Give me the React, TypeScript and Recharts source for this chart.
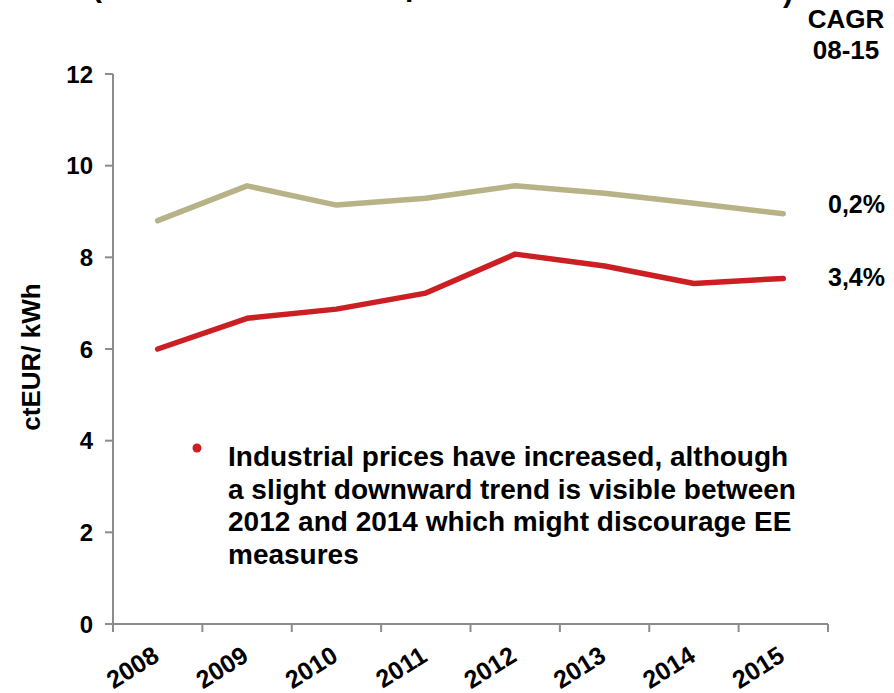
import React from 'react';
import { LineChart, Line, XAxis, YAxis } from 'recharts';

const years = ['2008', '2009', '2010', '2011', '2012', '2013', '2014', '2015'];
const referencePrices = [8.8, 9.56, 9.14, 9.29, 9.56, 9.4, 9.18, 8.95];
const industrialPrices = [6.0, 6.67, 6.87, 7.22, 8.07, 7.81, 7.43, 7.54];
const cagrLabels = ['0,2%', '3,4%'];
const yTicks = [0, 2, 4, 6, 8, 10, 12];
// tick marks sit on category boundaries (half steps), labels on the category centres
const xTicks = [-0.5, 0, 0.5, 1, 1.5, 2, 2.5, 3, 3.5, 4, 4.5, 5, 5.5, 6, 6.5, 7, 7.5];
const annotationLines = [
  'Industrial prices have increased, although',
  'a slight downward trend is visible between',
  '2012 and 2014 which might discourage EE',
  'measures',
];

const data = years.map((year, i) => ({
  idx: i,
  year,
  reference: referencePrices[i],
  industrial: industrialPrices[i],
}));

const FONT = '"Liberation Sans", Arial, Helvetica, sans-serif';
const AXIS = '#8c8c8c';
const GOLD = '#b8b287';
const RED = '#cc1f24';

const YearTick = (props: any) => {
  const { x, y, payload } = props;
  const v = payload.value as number;
  if (!Number.isInteger(v)) {
    return <line x1={x} y1={y} x2={x} y2={y + 8} stroke={AXIS} strokeWidth={2} />;
  }
  const ax = x + 3;
  const ay = y + 36;
  return (
    <text
      x={ax}
      y={ay}
      textAnchor="end"
      transform={`rotate(-32, ${ax}, ${ay})`}
      fontFamily={FONT}
      fontWeight="bold"
      fontSize={25}
      fill="#000"
    >
      {years[v]}
    </text>
  );
};

export default function App() {
  return (
    <div style={{ position: 'absolute', left: 0, top: 0, width: 894, height: 693, background: '#fff' }}>
      <LineChart
        width={894}
        height={693}
        data={data}
        margin={{ top: 74, right: 66, bottom: 0, left: 0 }}
      >
        <XAxis
          type="number"
          dataKey="idx"
          domain={[-0.5, 7.5]}
          ticks={xTicks}
          interval={0}
          tickLine={false}
          tickSize={0}
          tickMargin={0}
          height={69}
          stroke={AXIS}
          strokeWidth={2}
          tick={<YearTick />}
          allowDataOverflow
        />
        <YAxis
          width={113}
          domain={[0, 12]}
          ticks={yTicks}
          interval={0}
          tickSize={8}
          tickMargin={12}
          stroke={AXIS}
          strokeWidth={2}
          tick={{ fill: '#000', fontSize: 24, fontWeight: 'bold', fontFamily: FONT }}
        />
        <Line
          type="linear"
          dataKey="reference"
          stroke={GOLD}
          strokeWidth={5.5}
          strokeLinecap="round"
          strokeLinejoin="round"
          dot={false}
          isAnimationActive={false}
        />
        <Line
          type="linear"
          dataKey="industrial"
          stroke={RED}
          strokeWidth={5.5}
          strokeLinecap="round"
          strokeLinejoin="round"
          dot={false}
          isAnimationActive={false}
        />
      </LineChart>
      <svg
        width={894}
        height={693}
        style={{ position: 'absolute', left: 0, top: 0, pointerEvents: 'none' }}
        fontFamily={FONT}
        fontWeight="bold"
      >
        <text x={92} y={-3} fontSize={30} fill="#000">(</text>
        <text x={405} y={-4} fontSize={30} fill="#000">p</text>
        <text x={783} y={2} fontSize={30} fill="#000">)</text>
        <text x={846} y={28} fontSize={26} textAnchor="middle" fill="#000">CAGR</text>
        <text x={846} y={59} fontSize={26} textAnchor="middle" fill="#000">08-15</text>
        <text x={828} y={213} fontSize={25} fill="#000">{cagrLabels[0]}</text>
        <text x={828} y={286} fontSize={25} fill="#000">{cagrLabels[1]}</text>
        <text
          x={40}
          y={357}
          fontSize={26}
          textAnchor="middle"
          transform="rotate(-90, 40, 357)"
          fill="#000"
        >
          ctEUR/ kWh
        </text>
        <circle cx={197} cy={448} r={4.5} fill={RED} />
        {annotationLines.map((line, i) => (
          <text key={i} x={228} y={466 + i * 32.5} fontSize={28} fill="#000">
            {line}
          </text>
        ))}
      </svg>
    </div>
  );
}
